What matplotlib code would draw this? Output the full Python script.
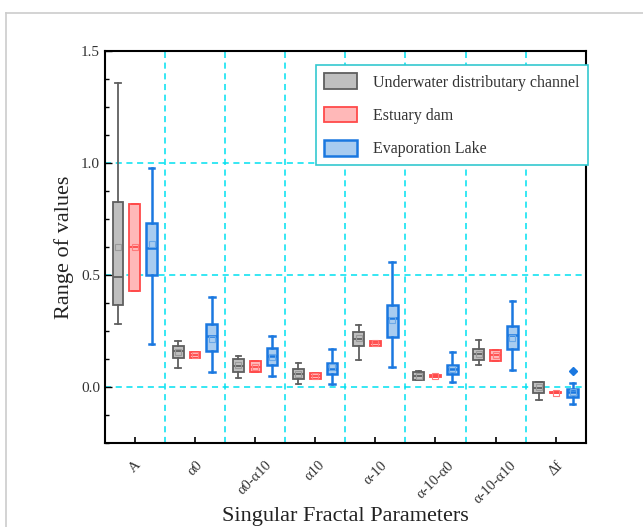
import matplotlib
matplotlib.use('Agg')
import matplotlib.pyplot as plt
from matplotlib.patches import Patch
from matplotlib.lines import Line2D
from matplotlib.ticker import MultipleLocator

plt.rcParams['font.family'] = ['Liberation Serif', 'DejaVu Serif']

# parameters on the x axis
params = ['A', 'α0', 'α0-α10', 'α10', 'α-10', 'α-10-α0', 'α-10-α10', 'Δf']
groups = ['Underwater distributary channel', 'Estuary dam', 'Evaporation Lake']

# box statistics: whislo, q1, med, q3, whishi, mean
channel_lo   = [0.283, 0.086, 0.043, 0.016, 0.120, 0.031, 0.100, -0.055]
channel_q1   = [0.369, 0.131, 0.066, 0.037, 0.186, 0.034, 0.120, -0.024]
channel_med  = [0.491, 0.161, 0.094, 0.061, 0.213, 0.052, 0.146, -0.003]
channel_q3   = [0.827, 0.184, 0.124, 0.079, 0.246, 0.069, 0.170, 0.021]
channel_hi   = [1.356, 0.208, 0.138, 0.109, 0.278, 0.073, 0.210, 0.021]
channel_mean = [0.626, 0.155, 0.100, 0.058, 0.218, 0.052, 0.148, 0.000]

dam_lo   = [0.430, 0.132, 0.066, 0.037, 0.186, 0.045, 0.119, -0.028]
dam_q1   = [0.430, 0.132, 0.066, 0.037, 0.186, 0.045, 0.119, -0.028]
dam_med  = [0.624, 0.144, 0.088, 0.050, 0.198, 0.050, 0.143, -0.024]
dam_q3   = [0.817, 0.156, 0.116, 0.062, 0.208, 0.055, 0.165, -0.020]
dam_hi   = [0.817, 0.156, 0.116, 0.062, 0.208, 0.055, 0.165, -0.020]
dam_mean = [0.624, 0.144, 0.090, 0.050, 0.197, 0.050, 0.142, -0.024]

lake_lo   = [0.195, 0.070, 0.050, 0.013, 0.092, 0.021, 0.076, -0.075]
lake_q1   = [0.499, 0.161, 0.097, 0.061, 0.222, 0.059, 0.170, -0.042]
lake_med  = [0.622, 0.228, 0.141, 0.083, 0.311, 0.080, 0.232, -0.022]
lake_q3   = [0.733, 0.280, 0.173, 0.109, 0.365, 0.101, 0.271, -0.007]
lake_hi   = [0.979, 0.403, 0.229, 0.171, 0.558, 0.156, 0.385, 0.018]
lake_mean = [0.637, 0.217, 0.135, 0.088, 0.300, 0.080, 0.220, -0.020]
lake_fliers = [[], [], [], [], [], [], [], [0.071]]

series = [
    (channel_lo, channel_q1, channel_med, channel_q3, channel_hi, channel_mean, None),
    (dam_lo, dam_q1, dam_med, dam_q3, dam_hi, dam_mean, None),
    (lake_lo, lake_q1, lake_med, lake_q3, lake_hi, lake_mean, lake_fliers),
]
faces = ['#bfbfbf', '#ffb8b8', '#a8ccf0']
edges = ['#5f5f5f', '#ff4a4a', '#1a78e0']
mean_edges = ['#9a9a9a', '#ff7a7a', '#6aa8e8']
widths = [1.3, 1.3, 1.8]
offsets = [-0.28, 0.0, 0.28]
grid_c = '#00e0f0'

fig = plt.figure(figsize=(6.43, 5.27), dpi=100)
ax = fig.add_axes([0.163, 0.159, 0.748, 0.744])

for k, (lo, q1, med, q3, hi, mean, fl) in enumerate(series):
    stats = []
    for i in range(len(params)):
        stats.append(dict(whislo=lo[i], q1=q1[i], med=med[i], q3=q3[i],
                          whishi=hi[i], mean=mean[i],
                          fliers=fl[i] if fl else []))
    pos = [i + offsets[k] for i in range(len(params))]
    lw = widths[k]
    ax.bxp(stats, positions=pos, widths=0.18, patch_artist=True,
           showmeans=True, manage_ticks=False,
           boxprops=dict(facecolor=faces[k], edgecolor=edges[k], linewidth=lw),
           medianprops=dict(color=edges[k], linewidth=lw),
           whiskerprops=dict(color=edges[k], linewidth=lw),
           capprops=dict(color=edges[k], linewidth=lw),
           capwidths=0.09,
           meanprops=dict(marker='s', markersize=4, markerfacecolor='none',
                          markeredgecolor=mean_edges[k], markeredgewidth=0.8),
           flierprops=dict(marker='D', markersize=4.5, markerfacecolor=edges[k],
                           markeredgecolor=edges[k]))

# cyan dashed grid
for y in [0.0, 0.5, 1.0]:
    ax.axhline(y, color=grid_c, ls=(0, (4, 3)), lw=1.1, zorder=0)
for i in range(len(params) - 1):
    ax.axvline(i + 0.5, color=grid_c, ls=(0, (4, 3)), lw=1.1, zorder=0)

ax.set_xlim(-0.5, len(params) - 0.5)
ax.set_ylim(-0.25, 1.5)
ax.yaxis.set_major_locator(MultipleLocator(0.5))
ax.yaxis.set_minor_locator(MultipleLocator(0.125))
ax.set_xticks(range(len(params)))
ax.set_xticklabels(params, rotation=45, ha='center', fontsize=10.5, color='#333333')
ax.tick_params(axis='x', direction='in', length=4, pad=11, width=1.2)
ax.tick_params(axis='y', which='both', direction='in', width=1.0, labelsize=11,
               labelcolor='#333333')
ax.tick_params(axis='y', which='major', length=5)
ax.tick_params(axis='y', which='minor', length=3)
for s in ax.spines.values():
    s.set_linewidth(1.5)

ax.set_ylabel('Range of values', fontsize=16, color='#222222')
ax.yaxis.set_label_coords(-0.064, 0.5)
ax.set_xlabel('Singular Fractal Parameters', fontsize=16, color='#222222')
ax.xaxis.set_label_coords(0.5, -0.163)

handles = [Patch(facecolor=faces[k], edgecolor=edges[k], linewidth=widths[k])
           for k in range(3)]
leg = ax.legend(handles, groups, loc='upper right', bbox_to_anchor=(1.004, 0.964),
                borderaxespad=0, fontsize=11.5, fancybox=False, framealpha=1,
                edgecolor='#33c8d0', handlelength=2.1, handleheight=1.15,
                handletextpad=1.0, labelspacing=1.0, borderpad=0.5)
leg.get_frame().set_linewidth(1.2)
for t in leg.get_texts():
    t.set_color('#333333')

# light frame around the figure
fig.add_artist(Line2D([6 / 643, 1], [1 - 13 / 527, 1 - 13 / 527],
                      color='#cccccc', lw=1.2))
fig.add_artist(Line2D([6 / 643, 6 / 643], [0, 1 - 13 / 527],
                      color='#cccccc', lw=1.2))

fig.savefig('out.png', dpi=100)
